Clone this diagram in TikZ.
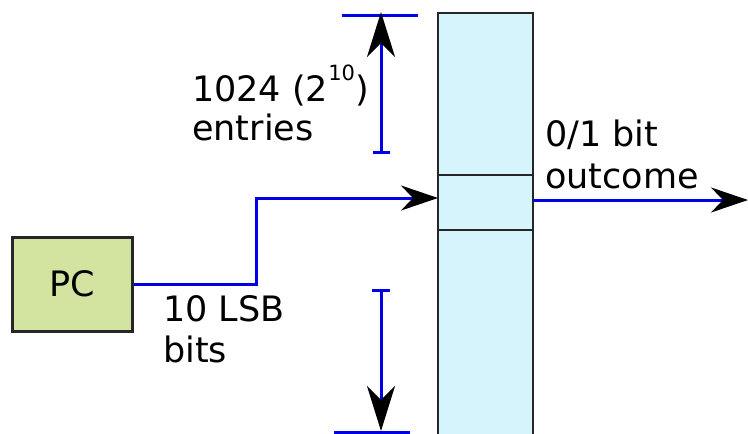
\documentclass[tikz,border=0pt]{standalone}
\usepackage{fontspec}
\setmainfont{DejaVu Sans}
\usetikzlibrary{arrows.meta}
\definecolor{cellfill}{HTML}{D5F4FC}
\definecolor{pcfill}{HTML}{D2E4A0}
\definecolor{wire}{HTML}{0000E6}
\tikzset{
  cell/.style={draw=black!85, line width=2.6pt, fill=cellfill, minimum width=95pt, inner sep=0pt, outer sep=0pt},
  wireline/.style={draw=wire, line width=3pt},
  harrow/.style={-{Stealth[length=37pt,width=25pt,inset=12pt,black]}},
  varrow/.style={-{Stealth[length=45pt,width=28pt,inset=14pt,black]}},
  lbl/.style={font=\fontsize{35}{42}\selectfont, anchor=base west, inner sep=0pt, align=left}
}
\begin{document}
\begin{tikzpicture}[x=1pt,y=-1pt]
\useasboundingbox (0,0) rectangle (748,434);
\clip (0,0) rectangle (748,434);
% table
\node[cell, minimum height=162pt] (top) at (485.5,94) {};
\node[cell, minimum height=55pt] (mid) at (485.5,202.5) {};
\node[cell, minimum height=220pt] (bot) at (485.5,340) {};
% PC
\node[draw=black!85, line width=3pt, fill=pcfill, minimum width=120pt, minimum height=94pt, inner sep=0pt, outer sep=0pt, font=\fontsize{35}{42}\selectfont] (pc) at (72,284) {PC};
% wire PC -> table
\coordinate (bendtop) at (256,198);
\draw[wireline, harrow] ([xshift=2pt]pc.east) -| (bendtop) -- ([yshift=4.5pt]mid.west);
% output
\coordinate (outend) at (748,200);
\draw[wireline, harrow] ([yshift=2.5pt]mid.east) -- (outend);
% upper dimension
\coordinate (ut1) at (342,15);
\coordinate (ut2) at (418,15);
\coordinate (ub1) at (373,152);
\coordinate (ub2) at (390,152);
\coordinate (utip) at (381,12);
\coordinate (ubase) at (381,152);
\draw[wireline] (ut1) -- (ut2);
\draw[wireline] (ub1) -- (ub2);
\draw[wireline, varrow] (ubase) -- (utip);
% lower dimension
\coordinate (lt1) at (372,290);
\coordinate (lt2) at (390,290);
\coordinate (lb1) at (334,432);
\coordinate (lb2) at (410,432);
\coordinate (lstart) at (381,290);
\coordinate (ltip) at (381,431);
\draw[wireline] (lt1) -- (lt2);
\draw[wireline] (lb1) -- (lb2);
\draw[wireline, varrow] (lstart) -- (ltip);
% labels
\node[lbl] (entries) at (192,140) {1024 (2\raisebox{21pt}{\fontsize{21}{21}\selectfont 10})\\[-3pt]entries};
\node[lbl] (lsb) at (163,362) {10 LSB\\[-1pt]bits};
\node[lbl] (outc) at (545,188) {0/1 bit\\[0pt]outcome};
\end{tikzpicture}
\end{document}
